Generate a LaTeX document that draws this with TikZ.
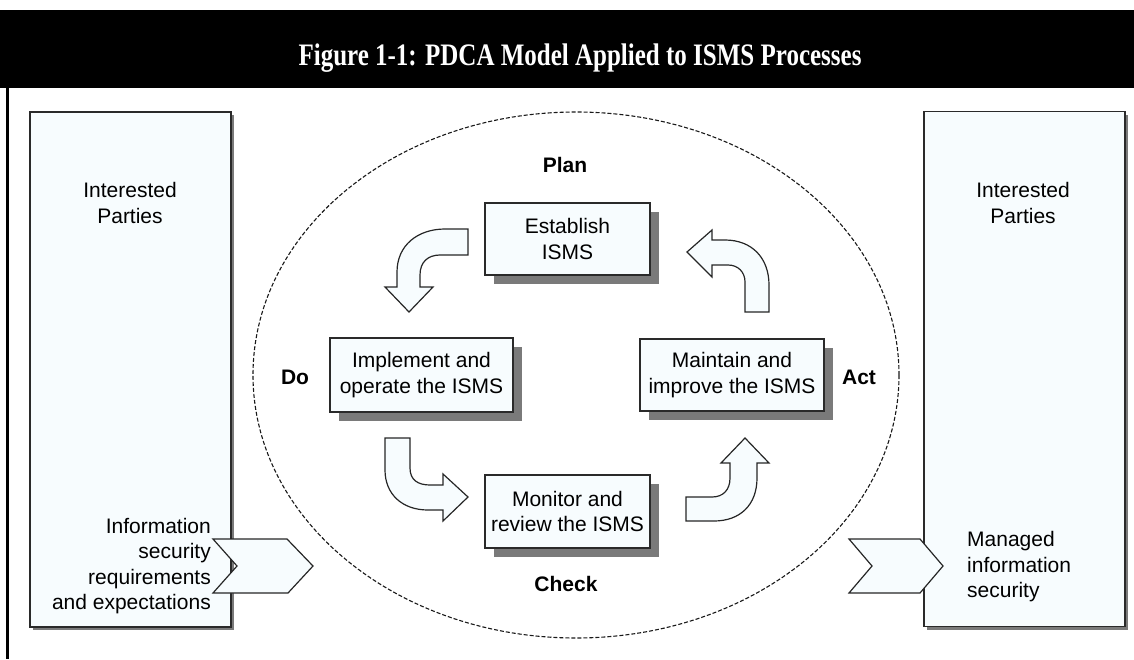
\documentclass[tikz,border=0pt]{standalone}
\usepackage{fontspec}
\setmainfont{Liberation Serif}
\newfontfamily\arialfont{Liberation Sans}
\usetikzlibrary{shadows}
\definecolor{boxfill}{HTML}{F7FCFE}
\definecolor{boxline}{HTML}{2A2A2A}
\definecolor{shadowgray}{HTML}{7A7A7A}
\tikzset{
  body/.style={font=\arialfont\fontsize{21}{25.5}\selectfont},
  stagelabel/.style={font=\arialfont\bfseries\fontsize{21}{25}\selectfont},
  procbox/.style={draw=boxline, line width=1.4pt, fill=boxfill, align=center,
    inner sep=0pt, body,
    general shadow={fill=shadowgray, shadow xshift=9pt, shadow yshift=-9pt}},
  sidebox/.style={draw=boxline, line width=1.2pt, fill=boxfill, inner sep=0pt,
    minimum width=201pt, minimum height=515pt,
    general shadow={fill=shadowgray, shadow xshift=3pt, shadow yshift=-3pt}},
  blockarrow/.style={draw=black!85, line width=1.2pt, fill=boxfill, line join=miter},
  cycleline/.style={draw=black!90, line width=1.1pt, dash pattern=on 4pt off 2pt},
}
\begin{document}
\begin{tikzpicture}[x=1pt,y=-1pt]
\useasboundingbox (0,0) rectangle (1134,659);
% title bar
\fill[black] (0,10) rectangle (1134,88);
\node[anchor=base, text=white, font=\bfseries\fontsize{25}{30}\selectfont] (title) at (580,65)
  {\scalebox{1}[1.25]{Figure 1-1: PDCA Model Applied to ISMS Processes}};
\draw[line width=3pt] (7.5,88) -- (7.5,659);

% cycle ellipse
\draw[cycleline] (576,375) ellipse [x radius=323pt, y radius=263pt];

% side boxes
\node[sidebox] (left) at (130.5,369.5) {};
\node[sidebox] (right) at (1024.5,369) {};
\node[body, align=center] (lefttop) at (130,203) {Interested\\Parties};
\node[body, align=center] (righttop) at (1023,203) {Interested\\Parties};
\node[body, align=right, anchor=east, inner sep=0pt] (input) at (211,566)
  {Information\\security\\requirements\\and expectations};
\node[body, align=left, anchor=west, inner sep=0pt] (output) at (967,567)
  {Managed\\information\\security};

% process boxes
\node[procbox, minimum width=165pt, minimum height=72pt] (plan) at (567.5,239) {Establish\\ISMS};
\node[procbox, minimum width=183pt, minimum height=74pt] (do) at (421.5,375) {Implement and\\operate the ISMS};
\node[procbox, minimum width=184pt, minimum height=72pt] (act) at (732,375) {Maintain and\\improve the ISMS};
\node[procbox, minimum width=165pt, minimum height=73pt] (check) at (567.5,511.5) {Monitor and\\review the ISMS};

% stage labels
\node[stagelabel] (planlbl) at (565,165) {Plan};
\node[stagelabel] (dolbl) at (295,377) {Do};
\node[stagelabel] (actlbl) at (859,377) {Act};
\node[stagelabel] (checklbl) at (566,584) {Check};

% curved block arrows
\draw[blockarrow] (468,229) -- (445,229) .. controls (418,229) and (397,245) .. (397,272)
  -- (397,287) -- (385,287) -- (409,312) -- (433,287) -- (420,287) -- (420,275)
  .. controls (420,262) and (428,255) .. (440,255) -- (468,255) -- cycle;
\draw[blockarrow] (687,252) -- (712,230) -- (712,240) -- (725,240)
  .. controls (752,240) and (769,258) .. (769,285) -- (769,312) -- (745,312) -- (745,282)
  .. controls (745,272) and (738,265) .. (728,265) -- (712,265) -- (712,277) -- cycle;
\draw[blockarrow] (385,438) -- (410,438) -- (410,468) .. controls (410,480) and (418,485) .. (430,485)
  -- (443,485) -- (443,474) -- (468,497) -- (443,521) -- (443,510) -- (428,510)
  .. controls (402,510) and (385,494) .. (385,470) -- cycle;
\draw[blockarrow] (686,497) -- (712,497) .. controls (723,497) and (730,490) .. (730,478)
  -- (730,463) -- (721,463) -- (745,438) -- (769,463) -- (757,463) -- (757,478)
  .. controls (757,505) and (740,521) .. (714,521) -- (686,521) -- cycle;

% chevrons
\draw[blockarrow] (213,539) -- (287,539) -- (313,566) -- (288,593) -- (213,593) -- (237,566) -- cycle;
\draw[blockarrow] (849,539) -- (920,539) -- (943,566) -- (920,593) -- (849,593) -- (872,566) -- cycle;
\end{tikzpicture}
\end{document}
